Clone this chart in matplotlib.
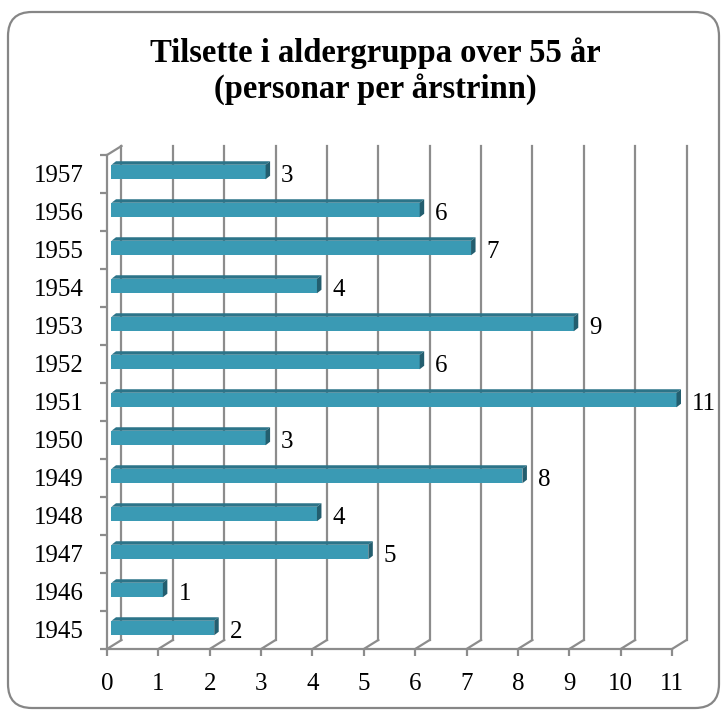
import numpy as np
import matplotlib
matplotlib.use("Agg")
import matplotlib.pyplot as plt
from matplotlib.patches import Polygon, FancyBboxPatch
from matplotlib.transforms import IdentityTransform

plt.rcParams['font.family'] = ['Liberation Serif', 'DejaVu Serif']

# data
years = ['1945', '1946', '1947', '1948', '1949', '1950', '1951',
         '1952', '1953', '1954', '1955', '1956', '1957']
counts = [2, 1, 5, 4, 8, 3, 11, 6, 9, 4, 7, 6, 3]
x_ticks = list(range(12))
title = "Tilsette i aldergruppa over 55 år\n(personar per årstrinn)"

W, H, DPI = 727, 711, 100
grid_col = '#8c8c8c'
bar_front = '#3a9ab4'
bar_top = '#2c7489'
bar_end = '#235e6f'

fig = plt.figure(figsize=(W / DPI, H / DPI), dpi=DPI)
fig.patch.set_facecolor('white')

# rounded chart border, in pixels
border = FancyBboxPatch((8, 3), 711, 696, boxstyle="round,pad=0,rounding_size=24",
                        transform=IdentityTransform(), facecolor='none',
                        edgecolor='#868686', linewidth=1.6)
fig.patches.append(border)

ax_l, ax_r, ax_b, ax_t = 107, 672, 649, 155
ax = fig.add_axes([ax_l / W, (H - ax_b) / H, (ax_r - ax_l) / W, (ax_b - ax_t) / H])
n = len(years)
ax.set_xlim(0, 11)
ax.set_ylim(-0.5, n - 0.5)
ax.set_facecolor('none')

# pixels per data unit
ppx = (ax_r - ax_l) / 11
ppy = (ax_b - ax_t) / n

# back wall offset (3D depth)
bx, by = 14.5 / ppx, 9 / ppy
for v in x_ticks:
    ax.plot([v + bx, v + bx], [-0.5 + by, n - 0.5 + by], color=grid_col, lw=1.6,
            clip_on=False, zorder=1)
    ax.plot([v, v + bx], [-0.5, -0.5 + by], color=grid_col, lw=1.6,
            clip_on=False, zorder=1)
ax.plot([0, bx], [n - 0.5, n - 0.5 + by], color=grid_col, lw=1.6, clip_on=False, zorder=1)

# bars: front face + top + end
ypos = np.arange(n)
fx, fy = 4.5 / ppx, 2.0 / ppy
h = 14.5 / ppy
dx, dy = 4.5 / ppx, 3.5 / ppy
bars = ax.barh(ypos + fy, counts, height=h, left=fx, color=bar_front, zorder=3)
for b in bars:
    b.set_clip_on(False)
for y, v in zip(ypos, counts):
    top = y + fy + h / 2
    bot = y + fy - h / 2
    ax.add_patch(Polygon([(fx, top), (v + fx, top), (v + fx + dx, top + dy), (fx + dx, top + dy)],
                         closed=True, facecolor=bar_top, edgecolor='none', zorder=3,
                         clip_on=False))
    ax.add_patch(Polygon([(v + fx, bot), (v + fx, top), (v + fx + dx, top + dy), (v + fx + dx, bot + dy)],
                         closed=True, facecolor=bar_end, edgecolor='none', zorder=3,
                         clip_on=False))
    ax.text(v + 20 / ppx, y - 1.5 / ppy, str(v), ha='left', va='center', fontsize=18,
            zorder=4, clip_on=False)

# axes lines and ticks
for s in ['top', 'right']:
    ax.spines[s].set_visible(False)
for s in ['left', 'bottom']:
    ax.spines[s].set_color(grid_col)
    ax.spines[s].set_linewidth(1.6)
ax.set_xticks(x_ticks)
ax.set_xticklabels([str(v) for v in x_ticks])
ax.set_yticks(ypos)
ax.set_yticklabels(years)
ax.set_yticks(np.arange(n + 1) - 0.5, minor=True)
ax.tick_params(axis='x', length=5, width=1.6, color=grid_col, labelsize=18, pad=12)
ax.tick_params(axis='y', which='major', length=0, labelsize=18, pad=17)
ax.tick_params(axis='y', which='minor', length=5, width=1.6, color=grid_col)
for lab in ax.get_yticklabels():
    lab.set_va('center_baseline')

fig.text(375 / W, 1 - 71 / H, title, ha='center', va='center', fontsize=23.5,
         fontweight='bold', linespacing=1.15)

fig.savefig('out.png', dpi=DPI)
